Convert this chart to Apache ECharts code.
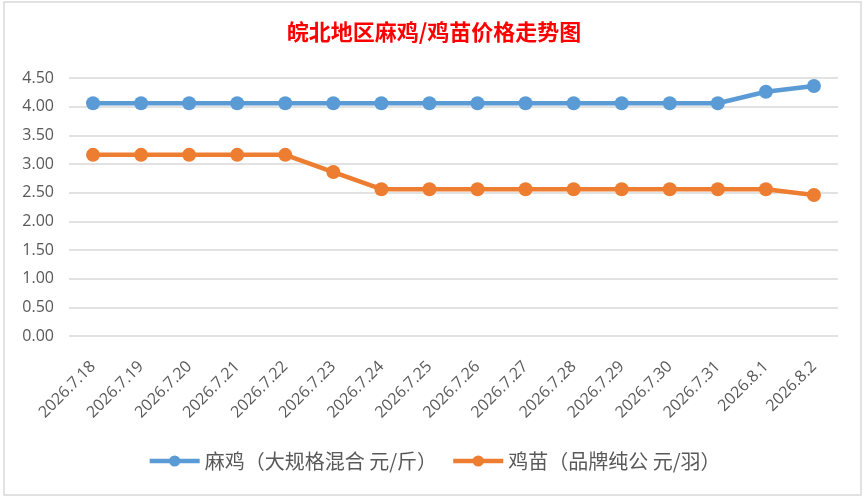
<!DOCTYPE html>
<html style="height: 100%">
<head>
    <meta charset="utf-8">
    <script type="text/javascript" src="https://cdn.jsdelivr.net/npm/echarts@6/dist/echarts.min.js"></script>
</head>
<body style="height: 100%; margin: 0; background: #fff">
<div id="container" style="width: 868px; height: 500px"></div>
<script type="text/javascript">
// 日期
var dates = ['2026.7.18', '2026.7.19', '2026.7.20', '2026.7.21', '2026.7.22', '2026.7.23',
    '2026.7.24', '2026.7.25', '2026.7.26', '2026.7.27', '2026.7.28', '2026.7.29',
    '2026.7.30', '2026.7.31', '2026.8.1', '2026.8.2'];
// 麻鸡 元/斤
var maji = [4.06, 4.06, 4.06, 4.06, 4.06, 4.06, 4.06, 4.06, 4.06, 4.06, 4.06, 4.06, 4.06, 4.06, 4.26, 4.36];
// 鸡苗 元/羽
var jimiao = [3.16, 3.16, 3.16, 3.16, 3.16, 2.86, 2.56, 2.56, 2.56, 2.56, 2.56, 2.56, 2.56, 2.56, 2.56, 2.46];

var seriesNames = ['麻鸡（大规格混合 元/斤）', '鸡苗（品牌纯公 元/羽）'];

var dom = document.getElementById("container");
var myChart = echarts.init(dom);

var option = {
    backgroundColor: '#fff',
    animation: false,
    title: {
        text: '皖北地区麻鸡/鸡苗价格走势图',
        left: 'center',
        top: 16,
        textStyle: {
            color: '#ff0000',
            fontSize: 22,
            fontWeight: 'bold',
            fontFamily: 'Noto Sans CJK SC'
        }
    },
    graphic: [{
        type: 'rect',
        shape: { x: 4, y: 2, width: 857, height: 493 },
        style: { fill: 'none', stroke: '#d9d9d9', lineWidth: 1.5 },
        silent: true
    }],
    legend: {
        bottom: 24,
        left: 'center',
        itemWidth: 50,
        itemHeight: 14,
        itemGap: 14,
        lineStyle: { width: 4.5 },
        textStyle: { color: '#595959', fontSize: 20, fontFamily: 'Noto Sans CJK SC' },
        data: seriesNames
    },
    grid: {
        left: 69,
        right: 30,
        top: 78,
        height: 258,
        containLabel: false
    },
    xAxis: {
        type: 'category',
        data: dates,
        boundaryGap: true,
        axisLine: { show: false },
        axisTick: { show: false },
        axisLabel: {
            rotate: 45,
            margin: 28,
            color: '#595959',
            fontSize: 16,
            fontFamily: 'Open Sans',
            interval: 0
        }
    },
    yAxis: {
        type: 'value',
        min: 0,
        max: 4.5,
        interval: 0.5,
        axisLine: { show: false },
        axisTick: { show: false },
        axisLabel: {
            margin: 15,
            color: '#595959',
            fontSize: 16,
            fontFamily: 'Open Sans',
            formatter: function (v) { return v.toFixed(2); }
        },
        splitLine: { lineStyle: { color: '#d9d9d9', width: 1.5 } }
    },
    series: [{
        name: seriesNames[0],
        type: 'line',
        data: maji,
        symbol: 'circle',
        symbolSize: 14,
        lineStyle: { color: '#5b9bd5', width: 4.5 },
        itemStyle: { color: '#5b9bd5' }
    }, {
        name: seriesNames[1],
        type: 'line',
        data: jimiao,
        symbol: 'circle',
        symbolSize: 14,
        lineStyle: { color: '#ed7d31', width: 4.5 },
        itemStyle: { color: '#ed7d31' }
    }]
};

myChart.setOption(option);
</script>
</body>
</html>
